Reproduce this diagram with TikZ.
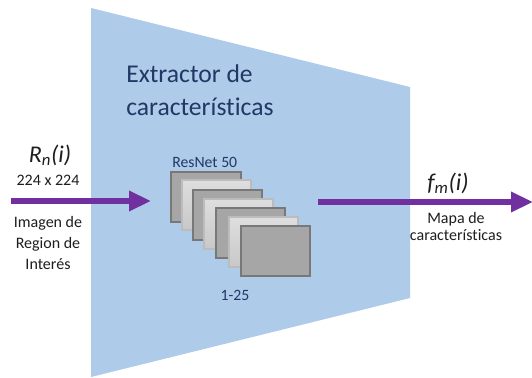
\documentclass[tikz,border=0pt]{standalone}
\usepackage{fontspec}
\setmainfont{Carlito}[Ligatures={NoCommon}]
\usetikzlibrary{arrows.meta}
\definecolor{panel}{RGB}{174,203,234}
\definecolor{navy}{RGB}{31,56,100}
\definecolor{arrowpurple}{RGB}{112,48,160}
\definecolor{darkfill}{RGB}{166,166,166}
\definecolor{darkedge}{RGB}{120,120,120}
\definecolor{lightedge}{RGB}{188,188,188}
\definecolor{lighttop}{RGB}{222,222,222}
\definecolor{lightbot}{RGB}{200,200,200}
\definecolor{textgray}{RGB}{30,30,30}
\tikzset{
  layerdark/.style={draw=darkedge, fill=darkfill, line width=1.1pt},
  layerlight/.style={draw=lightedge, top color=lighttop, bottom color=lightbot, line width=0.9pt},
  flow/.style={draw=arrowpurple, line width=5pt, -{Triangle[length=16.5pt,width=14.5pt]}},
  lbl/.style={font=\fontsize{12}{14}\selectfont, text=textgray, inner sep=0pt, anchor=base},
  bigital/.style={font=\fontsize{18}{20}\selectfont\itshape, text=textgray, inner sep=0pt, anchor=base},
  title/.style={font=\fontsize{19.2}{22}\selectfont, text=navy, inner sep=0pt, anchor=base west},
  navylbl/.style={font=\fontsize{11.8}{14}\selectfont, text=navy, inner sep=0pt},
}
\begin{document}
\begin{tikzpicture}[x=0.75pt,y=-0.75pt]
\fill[white] (0,0) rectangle (532,378);
\useasboundingbox (0,0) rectangle (532,378);
% feature extractor panel
\fill[panel] (91,8) -- (410,87) -- (410,298) -- (91,377) -- cycle;
\node[title] (t1) at (126,83) {Extractor de};
\node[title] (t2) at (126,115) {características};
% layers
\draw[layerdark]  (171,172) rectangle ++(70,50);
\draw[layerlight] (182,180) rectangle ++(69,50);
\draw[layerdark]  (193,190) rectangle ++(69,50);
\draw[layerlight] (204,199) rectangle ++(69,50);
\draw[layerdark]  (216,208) rectangle ++(69,50);
\draw[layerlight] (229,217) rectangle ++(69,50);
\draw[layerdark]  (241,226) rectangle ++(69,50);
\node[navylbl, anchor=base west] (resnet) at (172,167) {ResNet 50};
\node[navylbl, anchor=base] (range) at (235,300) {1-25};
% input
\node[bigital] (rn) at (50,162) {R\textsubscript{n}(i)};
\node[lbl] (size) at (48,185) {224 x 224};
\node[lbl] (in1) at (48,227) {Imagen de};
\node[lbl] (in2) at (48,248) {Region de};
\node[lbl] (in3) at (48,269) {Interés};
\coordinate (inA) at (11,201);
\coordinate (inB) at (151,201);
\draw[flow] (inA) -- (inB);
% output
\coordinate (outA) at (318,202);
\coordinate (outB) at (533,202);
\draw[flow] (outA) -- (outB);
\node[bigital] (fm) at (448,190) {f\textsubscript{m}(i)};
\node[lbl] (out1) at (456,223) {Mapa de};
\node[lbl] (out2) at (456,240) {características};
\end{tikzpicture}
\end{document}
